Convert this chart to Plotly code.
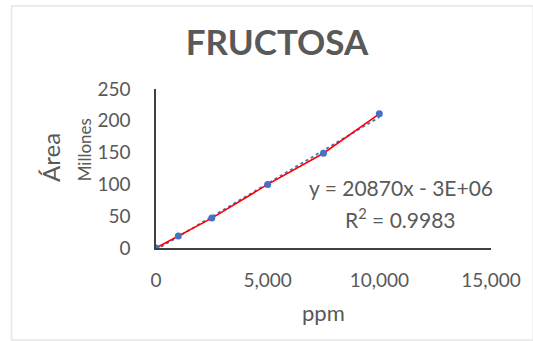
import plotly.graph_objects as go

# Calibration data: fructose concentration (ppm) vs. peak area (millions)
ppm = [0, 1000, 2500, 5000, 7500, 10000]
area_millions = [0, 19, 47, 100, 149, 211]

# Linear trend line as reported: y = 20870x - 3E+06 (area in raw units)
slope = 20870
intercept = -3e6
r_squared = 0.9983
trend_x = [0, 10000]
trend_y = [(slope * x + intercept) / 1e6 for x in trend_x]

x_ticks = [0, 5000, 10000, 15000]
y_ticks = [0, 50, 100, 150, 200, 250]

W, H = 533, 341
L, R, T, B = 156, 36, 89, 93
FONT = "Lato"
GREY = "#595959"


def px(x):
    return (x - L) / (W - L - R)


def py(y):
    return (H - B - y) / (H - T - B)


fig = go.Figure()
# dotted trend line in the series colour, drawn first so the data line sits on top
fig.add_trace(go.Scatter(
    x=trend_x, y=trend_y, mode="lines",
    line=dict(color="#4472C4", width=1.8, dash="dot"),
    showlegend=False,
))
fig.add_trace(go.Scatter(
    x=ppm, y=area_millions, mode="lines+markers",
    line=dict(color="#FF0000", width=1.6),
    marker=dict(color="#4472C4", size=7),
    showlegend=False,
))

axis_common = dict(
    showgrid=False, zeroline=False, showline=True,
    linecolor="#404040", linewidth=1.5, ticks="",
    tickfont=dict(family=FONT, size=19, color=GREY),
)
fig.update_xaxes(range=[0, 15000], tickvals=x_ticks, tickformat=",",
                 ticklabelstandoff=14, **axis_common)
fig.update_yaxes(range=[0, 250], tickvals=y_ticks,
                 ticklabelstandoff=20, **axis_common)

annotations = [
    dict(text="ppm", x=px(326), y=py(312), font=dict(size=22)),
    dict(text="Área", x=px(48), y=py(157), textangle=-90, font=dict(size=24)),
    dict(text="Millones", x=px(83), y=py(150), textangle=-90, font=dict(size=17)),
    dict(text="y = 20870x - 3E+06", x=px(405), y=py(187), font=dict(size=21)),
    dict(text=f"R<sup>2</sup> = {r_squared}", x=px(405), y=py(218), font=dict(size=21)),
]
for a in annotations:
    a["font"].update(family=FONT, color=GREY)
    fig.add_annotation(xref="paper", yref="paper", showarrow=False,
                       xanchor="center", yanchor="middle", **a)

fig.update_layout(
    width=W, height=H,
    margin=dict(l=L, r=R, t=T, b=B),
    paper_bgcolor="white", plot_bgcolor="white",
    title=dict(text="<b>FRUCTOSA</b>", xref="container", yref="container",
               x=277 / W, y=1 - 43 / H, xanchor="center", yanchor="middle",
               font=dict(family=FONT, size=35, color=GREY)),
    shapes=[dict(type="rect", xref="paper", yref="paper",
                 x0=px(9), x1=px(540), y0=py(340), y1=py(6),
                 line=dict(color="#E6E6E6", width=1.5), layer="below")],
)

fig.write_html("out.html")
